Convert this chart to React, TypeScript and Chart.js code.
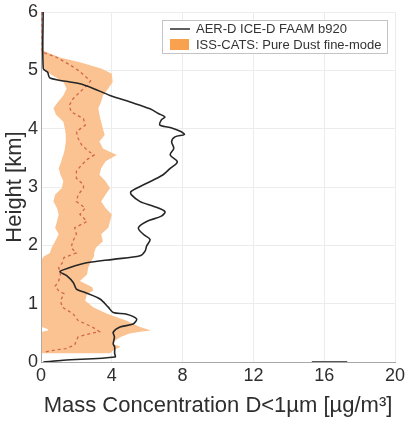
import React, { useEffect, useRef } from "react";
import { Chart, registerables } from "chart.js";

Chart.register(...registerables);

// AER-D / ICE-D FAAM flight b920 fine-mode mass profile
const faamHeight = [6.0, 5.03, 4.97, 4.87, 4.77, 4.69, 4.57, 4.46, 4.34, 4.26, 4.20, 4.15, 4.06, 4.02, 3.95, 3.90, 3.86, 3.78, 3.66, 3.55, 3.43, 3.32, 3.21, 3.12, 3.01, 2.92, 2.87, 2.75, 2.67, 2.58, 2.50, 2.41, 2.30, 2.19, 2.10, 1.99, 1.90, 1.82, 1.76, 1.70, 1.62, 1.55, 1.48, 1.36, 1.25, 1.19, 1.08, 0.94, 0.85, 0.82, 0.74, 0.65, 0.60, 0.51, 0.43, 0.31, 0.26, 0.15, 0.085, 0.03, 0.0];
const faamMass = [0.12, 0.13, 0.37, 0.5, 2.2, 2.95, 3.9, 5.0, 6.16, 6.63, 7.0, 6.8, 6.72, 7.3, 7.9, 8.1, 7.57, 7.38, 7.5, 7.3, 7.7, 7.3, 6.9, 6.35, 5.6, 5.08, 5.1, 5.6, 6.35, 7.0, 6.8, 5.97, 5.5, 5.78, 6.16, 5.97, 5.88, 5.6, 4.08, 2.58, 1.64, 1.07, 1.45, 1.83, 2.0, 2.49, 3.33, 3.8, 4.08, 4.84, 5.4, 5.2, 4.46, 4.08, 4.15, 4.08, 4.16, 4.16, 4.18, 1.26, 0.13];

// ISS-CATS pure dust fine-mode: spread (low/high) and median
const catsHeight = [5.34, 5.22, 5.14, 5.03, 4.94, 4.80, 4.69, 4.57, 4.46, 4.35, 4.24, 4.12, 4.00, 3.89, 3.78, 3.66, 3.55, 3.50, 3.44, 3.32, 3.21, 3.10, 2.98, 2.87, 2.75, 2.64, 2.53, 2.41, 2.30, 2.19, 2.07, 1.96, 1.87, 1.81, 1.76, 1.62, 1.50, 1.39, 1.28, 1.22, 1.17, 1.05, 0.94, 0.83, 0.71, 0.60, 0.56, 0.54, 0.52, 0.49, 0.43, 0.37, 0.31, 0.26, 0.20, 0.15];
const catsLow = [0.1, 0.13, 0.13, 0.2, 0.5, 1.26, 1.45, 1.26, 0.97, 0.7, 0.85, 1.26, 1.35, 1.4, 1.4, 1.35, 1.26, 1.2, 1.15, 1.0, 1.1, 1.26, 1.17, 0.8, 0.7, 0.9, 1.0, 0.9, 0.8, 1.0, 0.8, 0.6, 0.5, 0.15, 0.05, 0.05, 0.05, 0.05, 0.05, 0.05, 0.05, 0.05, 0.05, 0.05, 0.05, 0.05, 0.4, 0.4, 0.05, 0.05, 0.05, 0.05, 0.05, 0.05, 0.05, 0.05];
const catsHigh = [0.1, 1.07, 2.2, 3.4, 4.0, 4.05, 3.8, 3.5, 3.4, 3.24, 3.3, 3.4, 3.5, 3.6, 3.3, 3.5, 4.28, 4.0, 3.65, 3.4, 3.3, 3.65, 3.9, 3.65, 3.4, 3.65, 4.0, 3.9, 3.8, 3.4, 3.5, 3.1, 3.0, 3.0, 2.9, 2.67, 2.6, 2.2, 2.9, 2.95, 2.6, 2.5, 2.95, 3.7, 4.8, 5.6, 6.0, 6.2, 5.6, 5.0, 4.5, 4.2, 4.07, 4.5, 4.1, 3.9];

const medianHeight = [6.0, 5.33, 5.31, 5.22, 5.10, 5.00, 4.82, 4.74, 4.63, 4.51, 4.40, 4.29, 4.17, 4.06, 3.95, 3.83, 3.72, 3.61, 3.55, 3.47, 3.38, 3.27, 3.15, 3.04, 2.98, 2.87, 2.75, 2.64, 2.53, 2.41, 2.30, 2.19, 2.07, 1.96, 1.87, 1.79, 1.70, 1.62, 1.50, 1.39, 1.30, 1.22, 1.17, 1.05, 0.94, 0.83, 0.71, 0.60, 0.52, 0.49, 0.43, 0.37, 0.29, 0.23, 0.20, 0.17];
const medianMass = [0.05, 0.05, 0.1, 0.9, 1.6, 2.1, 2.8, 2.6, 2.2, 1.8, 1.6, 1.7, 2.4, 2.5, 2.0, 2.1, 2.3, 2.7, 3.0, 2.6, 2.3, 2.0, 2.0, 2.4, 2.4, 2.1, 2.0, 2.5, 2.2, 2.6, 1.9, 2.0, 1.8, 1.7, 2.0, 1.3, 1.2, 1.0, 1.1, 1.0, 0.8, 1.0, 1.3, 1.1, 1.2, 1.8, 2.1, 2.9, 3.3, 2.8, 2.1, 2.0, 1.9, 1.4, 0.7, 0.2];

// stray short trace lying on the x axis
const strayMass = [15.3, 17.3];
const strayHeight = [0, 0];

const xTicks = [0, 4, 8, 12, 16, 20];
const yTicks = [0, 1, 2, 3, 4, 5, 6];

const legendLabels = ["AER-D ICE-D FAAM b920", "ISS-CATS: Pure Dust fine-mode"];

const FONT = "'Liberation Sans', Arial, Helvetica, sans-serif";
const TEXT = "#2e2e2e";

const pts = (xs: number[], ys: number[]) => xs.map((x, i) => ({ x, y: ys[i] }));

const legendPlugin = {
  id: "boxLegend",
  afterDraw(chart: any) {
    const { ctx, chartArea } = chart;
    const right = chartArea.right - 7;
    const top = chartArea.top + 8;
    const w = 226;
    const h = 34;
    const left = right - w;
    ctx.save();
    ctx.fillStyle = "#ffffff";
    ctx.fillRect(left, top, w, h);
    ctx.strokeStyle = "#c4c4c4";
    ctx.lineWidth = 1;
    ctx.strokeRect(left + 0.5, top + 0.5, w - 1, h - 1);
    // line sample
    ctx.strokeStyle = "#2a2a2a";
    ctx.lineWidth = 1.5;
    ctx.beginPath();
    ctx.moveTo(left + 8, top + 9);
    ctx.lineTo(left + 28, top + 9);
    ctx.stroke();
    // patch sample
    ctx.fillStyle = "#f8a14f";
    ctx.fillRect(left + 8, top + 19, 19, 11);
    ctx.fillStyle = "#333333";
    ctx.font = `13px ${FONT}`;
    ctx.textBaseline = "middle";
    ctx.textAlign = "left";
    ctx.fillText(legendLabels[0], left + 34, top + 9);
    ctx.fillText(legendLabels[1], left + 34, top + 25);
    ctx.restore();
  },
};

export default function App() {
  const ref = useRef<HTMLCanvasElement | null>(null);

  useEffect(() => {
    if (!ref.current) return;
    const bandPoly = [
      ...pts(catsLow, catsHeight),
      ...pts(catsHigh, catsHeight).reverse(),
    ];
    const chart = new Chart(ref.current, {
      type: "line",
      data: {
        datasets: [
          {
            label: legendLabels[0],
            data: pts(faamMass, faamHeight),
            borderColor: "#262626",
            borderWidth: 1.6,
            pointRadius: 0,
            fill: false,
            tension: 0.3,
            order: 0,
          },
          {
            label: "stray",
            data: pts(strayMass, strayHeight),
            borderColor: "#555555",
            borderWidth: 2,
            pointRadius: 0,
            fill: false,
            order: 1,
          },
          {
            label: "median",
            data: pts(medianMass, medianHeight),
            borderColor: "#d2654b",
            borderWidth: 1.3,
            borderDash: [3, 3],
            pointRadius: 0,
            fill: false,
            order: 2,
          },
          {
            label: legendLabels[1],
            data: bandPoly,
            borderWidth: 0,
            borderColor: "rgba(0,0,0,0)",
            backgroundColor: "#fbc392",
            pointRadius: 0,
            fill: "shape",
            order: 3,
          },
        ],
      },
      options: {
        responsive: false,
        animation: false,
        events: [],
        layout: { padding: { top: 9, right: 16, left: 0, bottom: 0 } },
        plugins: {
          legend: { display: false },
          tooltip: { enabled: false },
        },
        scales: {
          x: {
            type: "linear",
            min: 0,
            max: 20,
            afterBuildTicks: (scale: any) => {
              scale.ticks = xTicks.map((v) => ({ value: v }));
            },
            afterFit: (scale: any) => {
              scale.height = 61;
            },
            grid: { color: "#ececec", drawTicks: false },
            border: { color: "#a8a8a8", width: 1 },
            ticks: {
              color: TEXT,
              padding: 5,
              font: { family: FONT, size: 18, lineHeight: 1 },
            },
            title: {
              display: true,
              text: "Mass Concentration D<1µm [µg/m³]",
              color: TEXT,
              padding: { top: 0, bottom: 4 },
              font: { family: FONT, size: 22, lineHeight: 1.2 },
            },
          },
          y: {
            type: "linear",
            min: 0,
            max: 6,
            afterBuildTicks: (scale: any) => {
              scale.ticks = yTicks.map((v) => ({ value: v }));
            },
            afterFit: (scale: any) => {
              scale.width = 41;
            },
            grid: { color: "#ececec", drawTicks: false },
            border: { color: "#a8a8a8", width: 1 },
            ticks: {
              color: TEXT,
              padding: 3,
              font: { family: FONT, size: 18, lineHeight: 1 },
            },
            title: {
              display: true,
              text: "Height [km]",
              color: TEXT,
              padding: { top: 2, bottom: 0 },
              font: { family: FONT, size: 22, lineHeight: 1.2 },
            },
          },
        },
      },
      plugins: [legendPlugin],
    });
    return () => chart.destroy();
  }, []);

  return (
    <div style={{ position: "absolute", left: 0, top: 0, width: 411, height: 423, background: "#ffffff" }}>
      <canvas ref={ref} width={411} height={423} />
    </div>
  );
}
